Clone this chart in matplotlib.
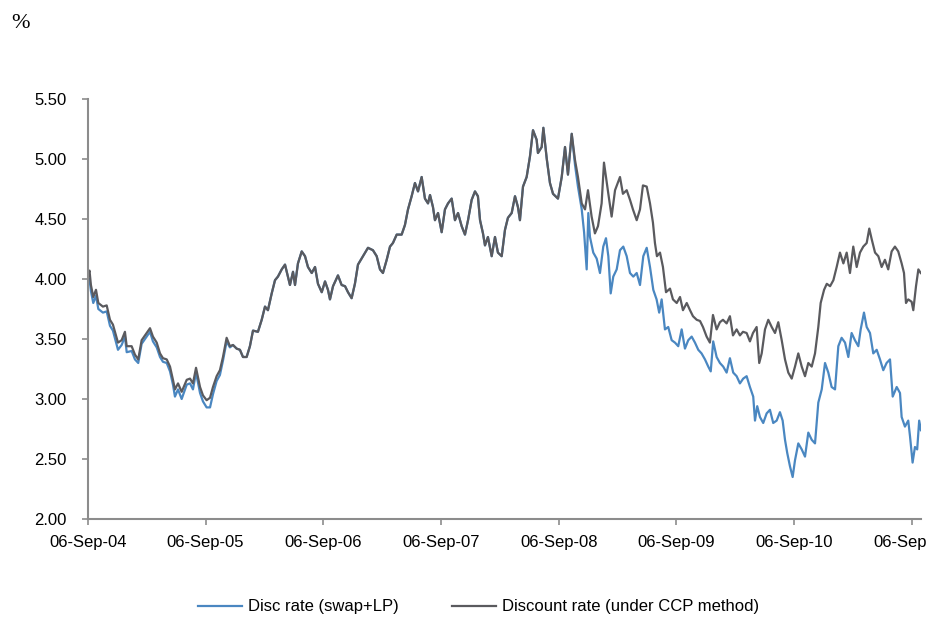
import numpy as np
import pandas as pd
import matplotlib
matplotlib.use("Agg")
import matplotlib.pyplot as plt
import matplotlib.dates as mdates
from matplotlib import font_manager

# time axis: years after 06-Sep-04
ccp_t = [0.000, 0.013, 0.025, 0.045, 0.068, 0.088, 0.127, 0.159, 0.187, 0.212,
         0.255, 0.286, 0.314, 0.329, 0.371, 0.399, 0.427, 0.456, 0.484, 0.527,
         0.552, 0.584, 0.612, 0.637, 0.669, 0.697, 0.722, 0.739, 0.765, 0.796,
         0.839, 0.867, 0.892, 0.918, 0.952, 0.977, 1.008, 1.037, 1.062, 1.093,
         1.121, 1.147, 1.178, 1.206, 1.232, 1.263, 1.291, 1.317, 1.348, 1.376,
         1.402, 1.444, 1.476, 1.504, 1.529, 1.561, 1.589, 1.614, 1.646, 1.674,
         1.699, 1.716, 1.742, 1.759, 1.784, 1.816, 1.844, 1.869, 1.901, 1.929,
         1.954, 1.986, 2.014, 2.039, 2.056, 2.082, 2.124, 2.155, 2.184, 2.209,
         2.240, 2.268, 2.294, 2.336, 2.379, 2.421, 2.453, 2.481, 2.506, 2.538,
         2.566, 2.591, 2.623, 2.665, 2.693, 2.719, 2.750, 2.778, 2.804, 2.835,
         2.863, 2.889, 2.906, 2.931, 2.948, 2.974, 3.005, 3.033, 3.059, 3.090,
         3.118, 3.144, 3.175, 3.203, 3.229, 3.260, 3.288, 3.313, 3.331, 3.356,
         3.373, 3.398, 3.430, 3.458, 3.483, 3.515, 3.543, 3.568, 3.600, 3.628,
         3.653, 3.670, 3.696, 3.727, 3.755, 3.781, 3.812, 3.823, 3.855, 3.869,
         3.898, 3.925, 3.951, 3.993, 4.025, 4.053, 4.078, 4.110, 4.138, 4.163,
         4.195, 4.223, 4.248, 4.279, 4.307, 4.333, 4.364, 4.384, 4.421, 4.449,
         4.478, 4.520, 4.545, 4.577, 4.605, 4.630, 4.662, 4.690, 4.715, 4.747,
         4.775, 4.800, 4.817, 4.834, 4.860, 4.885, 4.911, 4.945, 4.970, 5.002,
         5.030, 5.055, 5.087, 5.115, 5.140, 5.172, 5.200, 5.225, 5.256, 5.284,
         5.310, 5.341, 5.369, 5.395, 5.426, 5.454, 5.480, 5.511, 5.539, 5.565,
         5.596, 5.624, 5.650, 5.681, 5.703, 5.724, 5.752, 5.780, 5.809, 5.837,
         5.865, 5.894, 5.922, 5.950, 5.979, 6.007, 6.035, 6.064, 6.092, 6.120,
         6.149, 6.177, 6.205, 6.225, 6.254, 6.277, 6.305, 6.333, 6.361, 6.389,
         6.418, 6.446, 6.474, 6.502, 6.531, 6.559, 6.587, 6.616, 6.638, 6.659,
         6.687, 6.715, 6.743, 6.771, 6.799, 6.828, 6.856, 6.884, 6.913, 6.933,
         6.950, 6.969, 6.998, 7.012, 7.035, 7.055, 7.075]
ccp_rate = [4.03, 4.07, 3.95, 3.85, 3.91, 3.80, 3.77, 3.78, 3.66, 3.62,
            3.47, 3.49, 3.56, 3.44, 3.44, 3.37, 3.33, 3.49, 3.53, 3.59,
            3.52, 3.47, 3.38, 3.34, 3.33, 3.27, 3.16, 3.08, 3.13, 3.06,
            3.16, 3.17, 3.13, 3.26, 3.10, 3.03, 2.99, 3.01, 3.10, 3.19,
            3.24, 3.35, 3.51, 3.44, 3.45, 3.42, 3.41, 3.35, 3.35, 3.44,
            3.57, 3.56, 3.66, 3.77, 3.74, 3.88, 3.99, 4.02, 4.08, 4.12,
            4.02, 3.95, 4.06, 3.95, 4.13, 4.23, 4.19, 4.10, 4.05, 4.10,
            3.96, 3.89, 3.98, 3.91, 3.83, 3.94, 4.03, 3.95, 3.94, 3.89,
            3.84, 3.96, 4.12, 4.19, 4.26, 4.24, 4.19, 4.08, 4.05, 4.16,
            4.27, 4.30, 4.37, 4.37, 4.45, 4.58, 4.69, 4.80, 4.73, 4.85,
            4.67, 4.63, 4.70, 4.60, 4.49, 4.55, 4.39, 4.58, 4.63, 4.67,
            4.49, 4.55, 4.44, 4.37, 4.49, 4.66, 4.73, 4.69, 4.49, 4.38,
            4.28, 4.35, 4.19, 4.35, 4.22, 4.19, 4.41, 4.51, 4.55, 4.69,
            4.60, 4.49, 4.77, 4.85, 5.02, 5.24, 5.16, 5.05, 5.10, 5.26,
            5.00, 4.80, 4.71, 4.67, 4.85, 5.10, 4.87, 5.21, 4.99, 4.85,
            4.63, 4.58, 4.74, 4.52, 4.38, 4.44, 4.63, 4.97, 4.71, 4.52,
            4.74, 4.85, 4.71, 4.74, 4.66, 4.58, 4.49, 4.58, 4.78, 4.77,
            4.63, 4.47, 4.30, 4.19, 4.22, 4.10, 3.89, 3.92, 3.83, 3.80,
            3.85, 3.74, 3.80, 3.74, 3.69, 3.66, 3.65, 3.60, 3.52, 3.47,
            3.70, 3.58, 3.64, 3.66, 3.63, 3.69, 3.53, 3.58, 3.53, 3.56,
            3.55, 3.48, 3.55, 3.60, 3.30, 3.38, 3.58, 3.66, 3.60, 3.55,
            3.64, 3.49, 3.33, 3.22, 3.17, 3.27, 3.38, 3.27, 3.19, 3.30,
            3.27, 3.38, 3.60, 3.80, 3.91, 3.96, 3.94, 3.99, 4.10, 4.22,
            4.13, 4.22, 4.05, 4.27, 4.10, 4.22, 4.27, 4.30, 4.42, 4.33,
            4.22, 4.19, 4.10, 4.16, 4.08, 4.23, 4.27, 4.23, 4.13, 4.05,
            3.80, 3.83, 3.81, 3.74, 3.94, 4.08, 4.05]

# swap+LP: below CCP in 2004-05, same line 2005-08, then diverges
swap_early_t = ccp_t[:44]
swap_early_rate = [3.98, 4.00, 3.90, 3.80, 3.86, 3.75, 3.72, 3.73, 3.61, 3.57,
                   3.41, 3.45, 3.52, 3.39, 3.40, 3.33, 3.30, 3.46, 3.50, 3.56,
                   3.48, 3.43, 3.35, 3.31, 3.30, 3.23, 3.12, 3.02, 3.08, 3.00,
                   3.12, 3.13, 3.08, 3.22, 3.05, 2.98, 2.93, 2.93, 3.04, 3.15,
                   3.20, 3.32, 3.48, 3.43]
swap_late_t = [4.138, 4.163, 4.195, 4.215, 4.237, 4.251, 4.265, 4.293, 4.322, 4.350,
               4.378, 4.401, 4.421, 4.441, 4.463, 4.492, 4.520, 4.548, 4.577, 4.605,
               4.633, 4.662, 4.690, 4.718, 4.747, 4.775, 4.803, 4.831, 4.853, 4.874,
               4.902, 4.930, 4.959, 4.987, 5.015, 5.044, 5.072, 5.100, 5.129, 5.157,
               5.185, 5.213, 5.242, 5.270, 5.291, 5.312, 5.341, 5.369, 5.397, 5.426,
               5.454, 5.482, 5.511, 5.539, 5.567, 5.596, 5.624, 5.652, 5.667, 5.686,
               5.709, 5.737, 5.766, 5.794, 5.822, 5.851, 5.879, 5.902, 5.922, 5.941,
               5.964, 5.987, 6.007, 6.035, 6.064, 6.092, 6.120, 6.149, 6.177, 6.205,
               6.234, 6.262, 6.290, 6.318, 6.347, 6.375, 6.403, 6.432, 6.460, 6.488,
               6.516, 6.545, 6.565, 6.593, 6.616, 6.644, 6.672, 6.701, 6.729, 6.757,
               6.785, 6.814, 6.837, 6.871, 6.899, 6.913, 6.941, 6.969, 6.984, 7.006,
               7.026, 7.045, 7.062, 7.077]
swap_late_rate = [4.95, 4.77, 4.58, 4.39, 4.08, 4.55, 4.35, 4.22, 4.17, 4.05,
                  4.27, 4.34, 4.19, 3.88, 4.02, 4.08, 4.24, 4.27, 4.19, 4.05,
                  4.02, 4.05, 3.95, 4.19, 4.26, 4.10, 3.91, 3.83, 3.72, 3.83,
                  3.58, 3.60, 3.49, 3.47, 3.44, 3.58, 3.42, 3.49, 3.52, 3.47,
                  3.41, 3.38, 3.33, 3.27, 3.23, 3.48, 3.35, 3.30, 3.27, 3.22,
                  3.34, 3.22, 3.19, 3.13, 3.17, 3.19, 3.10, 3.02, 2.82, 2.94,
                  2.85, 2.80, 2.88, 2.91, 2.80, 2.82, 2.89, 2.82, 2.66, 2.55,
                  2.44, 2.35, 2.49, 2.63, 2.58, 2.52, 2.72, 2.66, 2.63, 2.97,
                  3.08, 3.30, 3.22, 3.10, 3.08, 3.44, 3.51, 3.47, 3.35, 3.55,
                  3.49, 3.44, 3.58, 3.72, 3.60, 3.55, 3.38, 3.41, 3.33, 3.24,
                  3.30, 3.33, 3.02, 3.10, 3.05, 2.85, 2.77, 2.82, 2.69, 2.47,
                  2.60, 2.58, 2.82, 2.74]

swap_t = swap_early_t + ccp_t[44:148] + swap_late_t
swap_rate = swap_early_rate + ccp_rate[44:148] + swap_late_rate

start = pd.Timestamp("2004-09-06")
def to_dates(t):
    return start + pd.to_timedelta(np.array(t) * 365.25, unit="D")

names = {f.name for f in font_manager.fontManager.ttflist}
if "Liberation Sans Narrow" in names:
    fam, fs = "Liberation Sans Narrow", 13
else:
    fam, fs = "Liberation Sans", 12
plt.rcParams["font.family"] = fam

fig = plt.figure(figsize=(9.28, 6.18), dpi=100)
ax = fig.add_axes([0.0948, 0.1602, 0.8976, 0.6796])

ax.plot(to_dates(swap_t), swap_rate, color="#4a87c1", lw=1.6, label="Disc rate (swap+LP)")
ax.plot(to_dates(ccp_t), ccp_rate, color="#5a5a5e", lw=1.6, label="Discount rate (under CCP method)")

ax.set_ylim(2.0, 5.5)
ax.set_yticks(np.arange(2.0, 5.51, 0.5))
ax.yaxis.set_major_formatter(plt.FormatStrFormatter("%.2f"))
ax.set_xlim(start, start + pd.Timedelta(days=7.077 * 365.25))
ax.set_xticks([pd.Timestamp(f"{y}-09-06") for y in range(2004, 2012)])
ax.xaxis.set_major_formatter(mdates.DateFormatter("%d-%b-%y"))

for s in ["top", "right"]:
    ax.spines[s].set_visible(False)
for s in ["left", "bottom"]:
    ax.spines[s].set_color("#8c8c8c")
    ax.spines[s].set_linewidth(1.5)
ax.tick_params(colors="#8c8c8c", labelcolor="black", labelsize=fs, length=4.3, width=1.2)
ax.tick_params(axis="y", pad=11)
ax.tick_params(axis="x", pad=7)
for lab in ax.get_xticklabels():
    lab.set_clip_on(False)

fig.text(0.012, 0.955, "%", family="Liberation Serif", fontsize=16)

fig.legend(loc="center", bbox_to_anchor=(0.516, 0.018), ncol=2, frameon=False,
           fontsize=fs, handlelength=2.6, columnspacing=3.2, handletextpad=0.4)

fig.savefig("out.png", dpi=100)
